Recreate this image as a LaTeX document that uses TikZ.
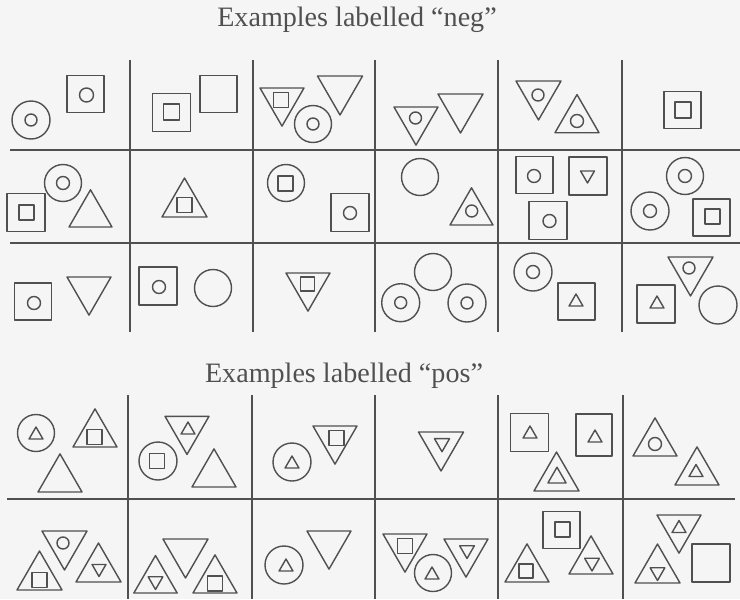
\documentclass[tikz,border=0pt]{standalone}
\usepackage{fontspec}
\setmainfont{Liberation Serif}
\usepackage{tikz}

\definecolor{inkc}{RGB}{80,80,80}
\definecolor{paperc}{RGB}{245,245,245}

% outlines, all in pixel units: centre x, centre y, size
\newcommand{\cshp}[3]{\draw[shp] (#1,#2) circle (#3);}
\newcommand{\sshp}[3]{\draw[shp] (#1-#3,#2-#3) rectangle (#1+#3,#2+#3);}
\newcommand{\ushp}[3]{\draw[shp] (#1,#2-#3) -- (#1+0.866*#3,#2+0.5*#3) -- (#1-0.866*#3,#2+0.5*#3) -- cycle;}
\newcommand{\dshp}[3]{\draw[shp] (#1,#2+#3) -- (#1+0.866*#3,#2-0.5*#3) -- (#1-0.866*#3,#2-0.5*#3) -- cycle;}

\begin{document}
\begin{tikzpicture}[x=0.02cm,y=-0.02cm,
  shp/.style={draw=inkc,line width=0.8pt,line join=round},
  rule/.style={draw=inkc,line width=1.1pt},
  title/.style={text=inkc,font=\fontsize{16}{18}\selectfont,anchor=base}]
  \fill[paperc] (0,0) rectangle (740,599);
  \useasboundingbox (0,0) rectangle (740,599);

  \node[title] (negt) at (357,26) {Examples labelled “neg”};
  \node[title] (post) at (344,382) {Examples labelled “pos”};

  % neg grid
  \foreach \gx in {130,253,375,498,622}
    \draw[rule] (\gx,60) -- (\gx,332);
  \foreach \gy in {150,243}
    \draw[rule] (10,\gy) -- (740,\gy);
  % pos grid
  \foreach \gx in {128,252,375,498,623}
    \draw[rule] (\gx,395) -- (\gx,599);
  \draw[rule] (7,499) -- (735,499);

  % neg, row 1
  \cshp{31}{120}{19} \cshp{31}{120}{6}
  \sshp{85.5}{94}{18.5} \cshp{86.5}{95}{7}
  \sshp{171.5}{112.5}{19} \sshp{171.5}{112}{8}
  \sshp{218.5}{94}{18.5}
  \dshp{282}{100.7}{25.4} \sshp{281}{100}{7.5}
  \dshp{340}{89}{26}
  \cshp{313}{124}{18.5} \cshp{313}{124}{6}
  \dshp{416}{119.7}{25.4} \cshp{415.5}{118}{6}
  \dshp{460.5}{107}{26}
  \dshp{538.5}{94}{26} \cshp{538}{95}{6}
  \ushp{577}{120}{25.4} \cshp{577}{121}{6.5}
  \sshp{682.5}{110}{18.5} \sshp{683}{110}{8}
  % neg, row 2
  \sshp{26}{212.5}{19} \sshp{26.5}{212.5}{7.5}
  \cshp{63}{183}{18.5} \cshp{63}{183}{6.5}
  \ushp{90.5}{214.6}{24.8}
  \ushp{184.5}{204}{26} \sshp{184.5}{205}{7.5}
  \cshp{286}{183}{18.5} \sshp{285.5}{183.5}{7.5}
  \sshp{350}{212.5}{19} \cshp{350}{213}{6.5}
  \cshp{420}{177}{18.5}
  \ushp{471.5}{212.6}{24.8} \cshp{471.7}{211}{6}
  \sshp{534.5}{175}{18.5} \cshp{534}{176}{6.5}
  \sshp{588}{176}{19} \dshp{587.5}{175}{8}
  \sshp{548}{220.5}{19} \cshp{549.5}{221}{6.5}
  \cshp{685}{176}{18.5} \cshp{685}{176}{6.5}
  \cshp{650}{211}{19} \cshp{650}{211}{6.5}
  \sshp{711.5}{217.5}{18.5} \sshp{712.5}{216.5}{7.5}
  % neg, row 3
  \sshp{33}{301.5}{18.5} \cshp{34}{303}{6.5}
  \dshp{89}{289.7}{25.4}
  \sshp{158}{286}{19} \cshp{159}{287}{6.5}
  \cshp{213}{288}{18.5}
  \dshp{308}{285.7}{25.4} \sshp{307.5}{284}{7}
  \cshp{433}{272}{18.5}
  \cshp{400.7}{302.7}{19} \cshp{400.7}{302.7}{6}
  \cshp{467}{303}{19} \cshp{467}{303}{6}
  \cshp{533}{272}{19} \cshp{533}{272}{6.5}
  \sshp{576.5}{301.5}{18.5} \ushp{576}{302}{8}
  \dshp{690.5}{270}{26} \cshp{689}{268}{6}
  \sshp{656}{304}{19} \ushp{657}{304}{8}
  \cshp{718}{305}{19}

  % pos, row 1
  \cshp{36}{433}{18.5} \ushp{36}{435}{8}
  \ushp{95}{434.3}{25.4} \sshp{94.5}{437}{7.5}
  \ushp{60}{479.3}{25.4}
  \dshp{187}{429}{25.4} \ushp{188}{430}{8}
  \cshp{158}{461}{19} \sshp{157}{461}{7.5}
  \ushp{214}{474.3}{25.4}
  \cshp{292}{462}{19} \ushp{292}{464}{8}
  \dshp{335}{438.7}{25.4} \sshp{336.5}{438}{7.5}
  \dshp{441}{445}{26} \dshp{442}{443}{8.7}
  \sshp{529.5}{432.5}{19} \ushp{530}{434}{8}
  \draw[shp] (576,414) rectangle (612,456); \ushp{595}{438}{8}
  \ushp{556.5}{478}{26} \ushp{557}{477.7}{10.5}
  \ushp{655}{443.3}{25.4} \cshp{655}{444}{6.5}
  \ushp{697}{472.3}{25.4} \ushp{696}{472.5}{8}
  % pos, row 2
  \dshp{64.5}{544}{26} \cshp{63}{543}{6}
  \ushp{39.5}{577}{26} \sshp{39.5}{580}{7.5}
  \ushp{98.5}{569}{26} \dshp{99}{568.5}{8}
  \dshp{185.5}{552}{26}
  \ushp{155.5}{580.5}{25} \dshp{155.5}{581}{8.5}
  \ushp{215}{580.3}{25.4} \sshp{215}{583.5}{7.5}
  \cshp{284}{565}{19} \ushp{286}{567}{8}
  \dshp{329}{543.7}{25.4}
  \dshp{405}{546.7}{25.4} \sshp{405}{546}{7.5}
  \cshp{433}{573}{18.5} \ushp{432}{575}{8}
  \dshp{466}{551.7}{25.4} \dshp{467}{550}{8.5}
  \sshp{561.5}{530}{18.5} \sshp{562.5}{529.5}{7.5}
  \ushp{527}{569.3}{25.4} \sshp{526}{571}{7}
  \ushp{591}{561.3}{25.4} \dshp{592}{562.5}{8.5}
  \dshp{679}{527.7}{25.4} \ushp{679}{528.5}{8}
  \ushp{657.5}{570}{26} \dshp{657.5}{572}{8.5}
  \sshp{711}{563}{19}
\end{tikzpicture}
\end{document}
